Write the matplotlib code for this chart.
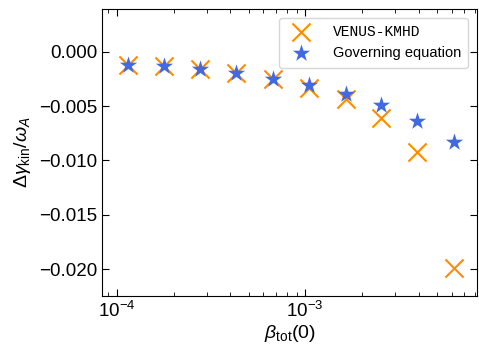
import matplotlib
matplotlib.use("Agg")
import matplotlib.pyplot as plt
from matplotlib.ticker import MultipleLocator, FuncFormatter, NullLocator

plt.rcParams["font.family"] = "Liberation Sans"
plt.rcParams["mathtext.fontset"] = "custom"
plt.rcParams["mathtext.rm"] = "Liberation Sans"
plt.rcParams["mathtext.it"] = "Liberation Sans:italic"
plt.rcParams["mathtext.tt"] = "Liberation Mono"

# beta_tot(0) scan
beta_tot = [1.14e-4, 1.77e-4, 2.76e-4, 4.30e-4, 6.71e-4,
            1.05e-3, 1.64e-3, 2.54e-3, 3.94e-3, 6.18e-3]
# growth-rate change from the simulation code
venus_kmhd = [-0.00122, -0.00129, -0.00159, -0.00199, -0.00250,
              -0.00336, -0.00438, -0.00613, -0.00920, -0.01991]
# prediction of the governing equation
governing = [-0.00122, -0.00129, -0.00159, -0.00199, -0.00250,
             -0.00306, -0.00389, -0.00492, -0.00636, -0.00827]

fig = plt.figure(figsize=(4.79, 3.45), dpi=100)
ax = fig.add_axes([0.213, 0.143, 0.783, 0.831])

ax.scatter(beta_tot, venus_kmhd, marker="x", s=170, color="darkorange",
           linewidths=1.5, label="VENUS-KMHD", zorder=2)
ax.scatter(beta_tot, governing, marker="*", s=170, color="royalblue",
           linewidths=0, label="Governing equation", zorder=3)

ax.set_xscale("log")
ax.set_xlim(10 ** -4.079, 10 ** -2.087)
ax.set_ylim(-0.02243, 0.00392)
ax.yaxis.set_major_locator(MultipleLocator(0.005))
ax.yaxis.set_major_formatter(FuncFormatter(lambda v, p: f"{v:.3f}".replace("-", "\u2212")))
ax.yaxis.set_minor_locator(NullLocator())

ax.tick_params(which="both", direction="in", top=True, right=True, labelsize=13.5)
ax.tick_params(which="major", length=5)
ax.tick_params(which="minor", length=3)

ax.set_xlabel(r"$\beta_{\mathrm{tot}}\mathrm{(0)}$", fontsize=14, labelpad=2)
ax.set_ylabel(r"$\Delta\gamma_{\mathrm{kin}}/\omega_A$", fontsize=14, labelpad=4)

leg = ax.legend(loc="upper right", fontsize=10.5, handletextpad=1.2,
                borderpad=0.5, framealpha=0.8, borderaxespad=0.6)
leg.get_texts()[0].set_family("Liberation Mono")

fig.savefig("out.png", dpi=100)
